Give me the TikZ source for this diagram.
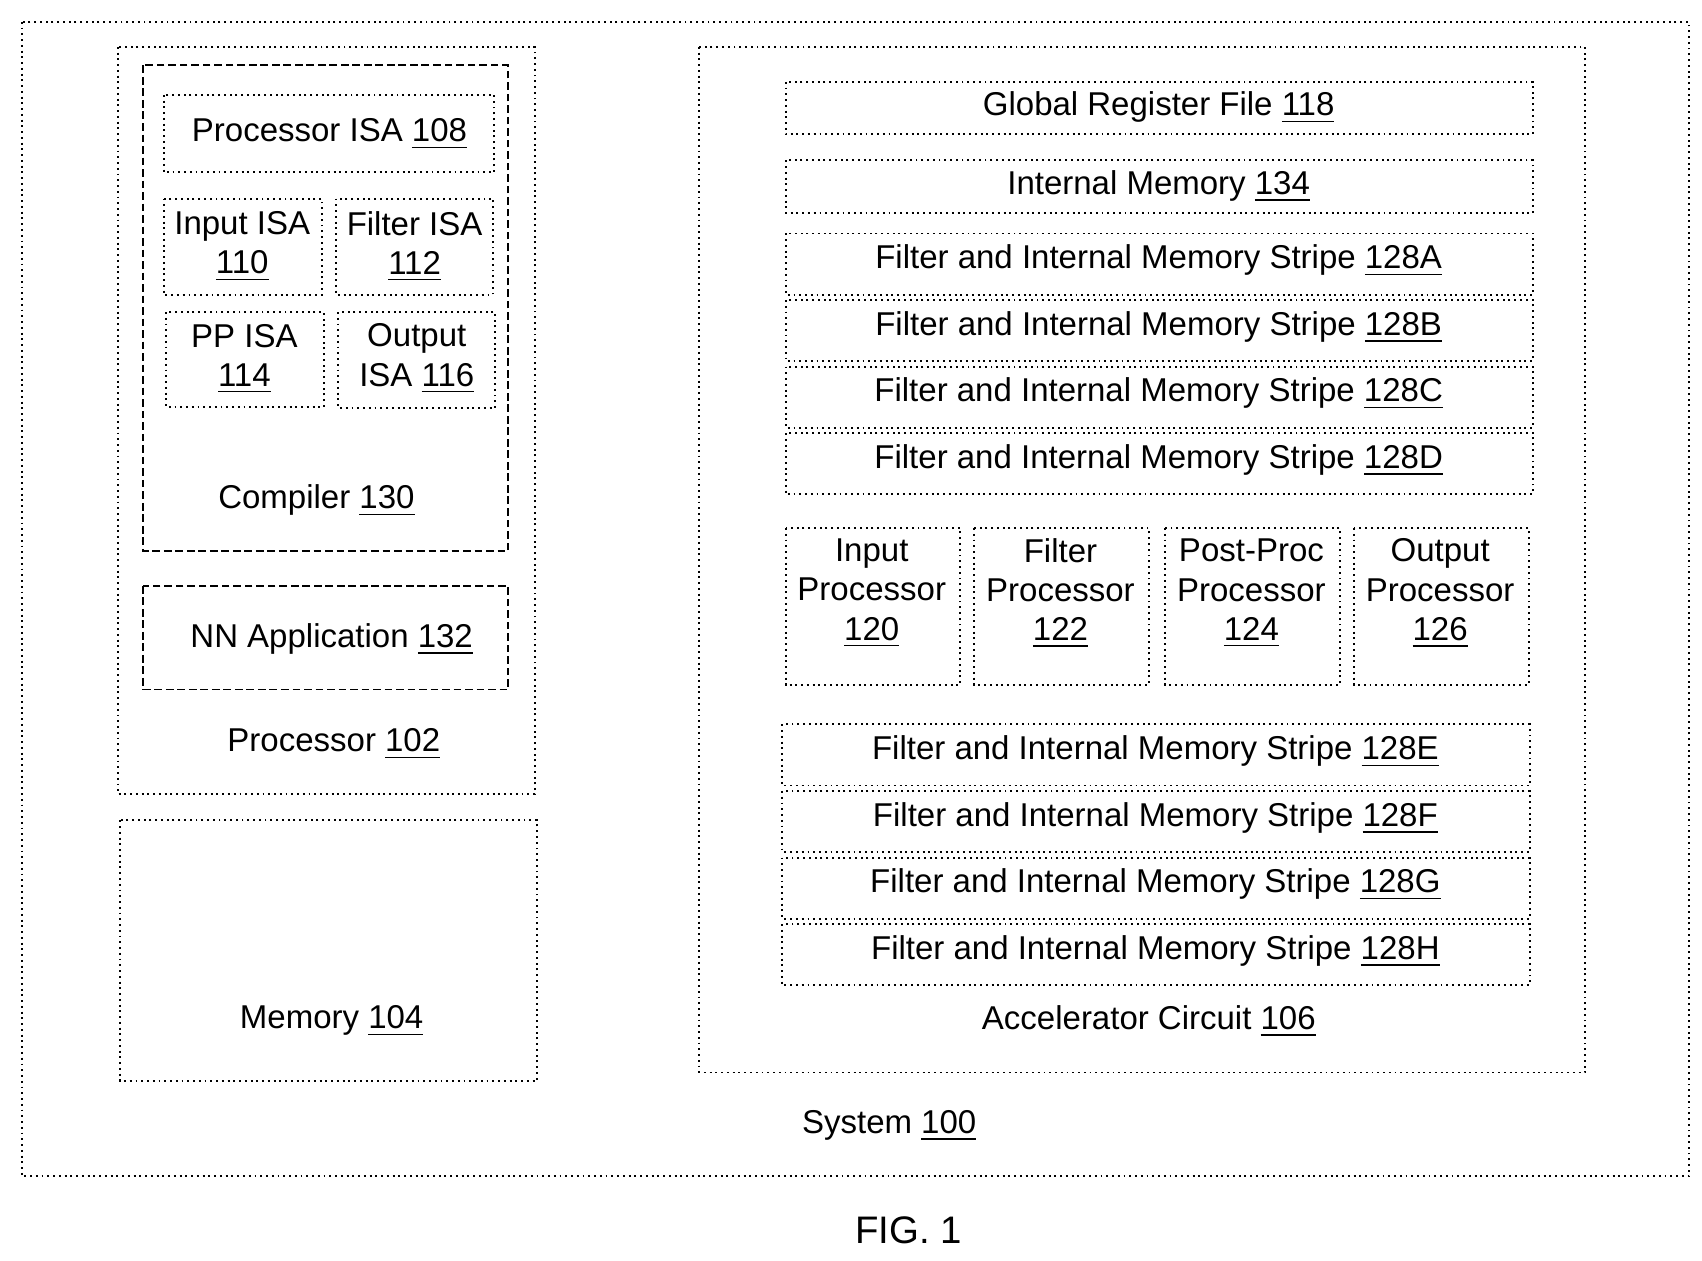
\documentclass[tikz,border=0pt]{standalone}
\usepackage{fontspec}
\setmainfont{Liberation Sans}
\usetikzlibrary{positioning}
\tikzset{
  blk/.style={draw,densely dotted,line width=0.5pt,inner sep=0pt},
  lbl/.style={font=\fontsize{8.6}{10.2}\selectfont,align=center}
}
\newcommand{\ul}[1]{\underline{#1}}
\newcommand{\newBox}[5]{\draw[blk] (#2,#3) rectangle (#4,#5) coordinate (#1);}
\begin{document}
\begin{tikzpicture}[x=0.01cm,y=-0.01cm]
  \useasboundingbox (0,0) rectangle (1560,1155);
  % system
  \draw[blk] (20,20) rectangle (1548,1078);
  \node[lbl] (sys) at (815,1032) {System \ul{100}};
  \node[lbl,font=\fontsize{10}{12}\selectfont] (fig) at (833,1128) {FIG. 1};
  % processor side
  \draw[blk] (108,43) rectangle (490,728);
  \node[lbl] (proc) at (306,682) {Processor \ul{102}};
  \draw[blk,dash pattern=on 2pt off 1pt] (131,60) rectangle (466,505);
  \node[lbl] (comp) at (290,459) {Compiler \ul{130}};
  \draw[blk] (150,87) rectangle (453,158);
  \node[lbl] (pisa) at (302,123) {Processor ISA \ul{108}};
  \draw[blk] (150,182) rectangle (295,270);
  \node[lbl] (iisa) at (222,226) {Input ISA\\\ul{110}};
  \draw[blk] (308,182) rectangle (452,270);
  \node[lbl] (fisa) at (380,226) {Filter ISA\\\ul{112}};
  \draw[blk] (152,286) rectangle (297,373);
  \node[lbl] (ppisa) at (224,329) {PP ISA\\\ul{114}};
  \draw[blk] (310,286) rectangle (454,374);
  \node[lbl] (oisa) at (382,329) {Output\\ISA \ul{116}};
  \draw[blk,dash pattern=on 2pt off 1pt] (131,537) rectangle (466,632);
  \node[lbl] (nn) at (304,586) {NN Application \ul{132}};
  \draw[blk] (110,752) rectangle (492,991);
  \node[lbl] (mem) at (304,936) {Memory \ul{104}};
  % accelerator
  \draw[blk] (641,43) rectangle (1453,983);
  \node[lbl] (acc) at (1053,936) {Accelerator Circuit \ul{106}};
  \draw[blk] (720,75) rectangle (1405,123);
  \node[lbl] (grf) at (1062,99) {Global Register File \ul{118}};
  \draw[blk] (720,147) rectangle (1405,195);
  \node[lbl] (im) at (1062,171) {Internal Memory \ul{134}};
  \foreach \n/\ya in {A/214,B/275,C/336,D/397}{
    \draw[blk] (720,\ya) rectangle (1405,\ya+56);
    \node[lbl] (s\n) at (1062,\ya+25) {Filter and Internal Memory Stripe \ul{128\n}};
  }
  \foreach \n/\ya in {E/664,F/725,G/786,H/847}{
    \draw[blk] (717,\ya) rectangle (1402,\ya+56);
    \node[lbl] (s\n) at (1059,\ya+25) {Filter and Internal Memory Stripe \ul{128\n}};
  }
  \foreach \t/\nm/\xa in {Input/120/720,Filter/122/893,Post-Proc/124/1068,Output/126/1241}{
    \draw[blk] (\xa,484) rectangle (\xa+160,628);
    \node[lbl] (p\nm) at (\xa+79,544) {\t\\Processor\\\ul{\nm}};
  }
\end{tikzpicture}
\end{document}
